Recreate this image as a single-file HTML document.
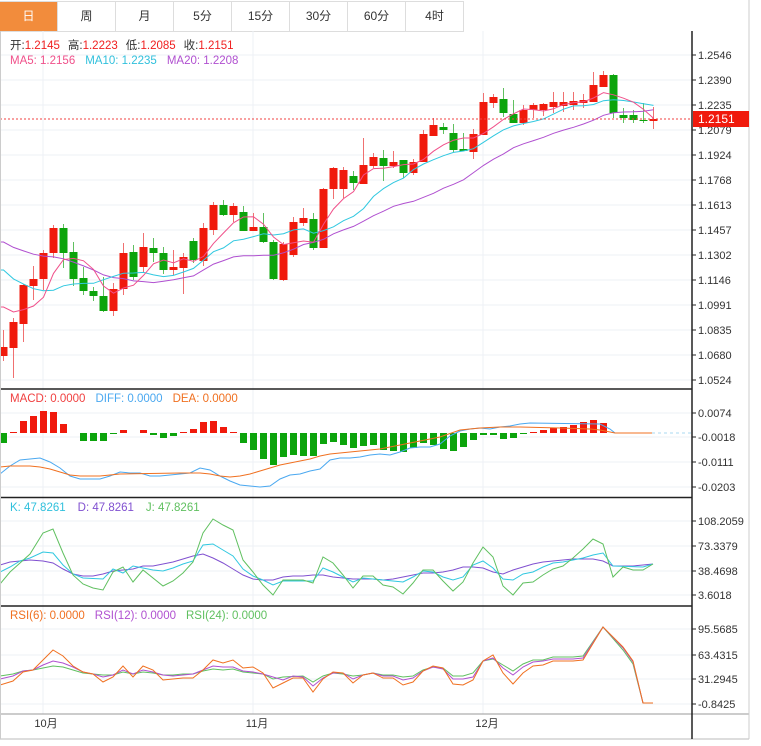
<!DOCTYPE html>
<html><head><meta charset="utf-8">
<style>
html,body{margin:0;padding:0;background:#fff;width:761px;height:746px;overflow:hidden;font-family:"Liberation Sans","Noto Sans CJK SC",sans-serif;}
.tabs{position:absolute;left:0;top:1px;height:29px;display:flex;border-bottom:1px solid #ddd;border-top:1px solid #ddd}
.tab{width:57px;border-right:1px solid #ddd;text-align:center;line-height:29px;font-size:12px;color:#333}
.tab.on{background:#f28c3c;color:#fff}
svg{position:absolute;left:0;top:0}
</style></head><body>
<div class="tabs"><div class="tab on">日</div><div class="tab">周</div><div class="tab">月</div><div class="tab">5分</div><div class="tab">15分</div><div class="tab">30分</div><div class="tab">60分</div><div class="tab">4时</div></div>
<svg id="s" width="761" height="746" xmlns="http://www.w3.org/2000/svg" font-family="Liberation Sans, Noto Sans CJK SC, sans-serif"></svg>
<script>
var S=document.getElementById('s'),h='';
function ln(x1,y1,x2,y2,c,w,d){h+='<line x1="'+x1+'" y1="'+y1+'" x2="'+x2+'" y2="'+y2+'" stroke="'+c+'" stroke-width="'+(w||1)+'"'+(d?' stroke-dasharray="'+d+'"':'')+'/>';}
function pl(p,c){h+='<polyline fill="none" stroke="'+c+'" stroke-width="1" points="'+p.map(function(a){return a.join(',')}).join(' ')+'"/>';}
function tx(x,y,t,c,s,a){h+='<text x="'+x+'" y="'+y+'" fill="'+c+'" font-size="'+(s||11)+'"'+(a?' text-anchor="'+a+'"':'')+'>'+t+'</text>';}
var G='#edf1f5';
[55,80,105,130,155,180,205,230,255,280,305,330,355,380].forEach(function(y){ln(0,y,692,y,G)});
[413,437,462,487].forEach(function(y){ln(0,y,692,y,G)});
[521,546,571,595].forEach(function(y){ln(0,y,692,y,G)});
[629,655,679,704].forEach(function(y){ln(0,y,692,y,G)});
[43,253,483].forEach(function(x){ln(x,31,x,714,G)});
var C=[[347,356,330,361,1],[322,348,318,378,1],[285,324,284,342,1],[279,286,266,300,1],[253,279,250,290,1],[228,253,225,258,1],[228,253,224,268,0],[252,279,242,286,0],[278,291,267,295,0],[291,296,287,301,0],[296,311,277,312,0],[289,311,283,316,1],[253,289,243,295,1],[252,277,245,280,0],[247,267,233,272,1],[248,253,238,262,0],[253,270,247,274,0],[267,270,250,275,1],[257,268,253,294,1],[241,260,238,263,0],[228,261,223,266,1],[205,230,202,235,1],[205,215,200,216,0],[206,215,203,222,1],[212,231,206,231,0],[227,231,213,231,1],[227,242,213,243,0],[242,279,240,280,0],[244,280,242,281,1],[222,255,217,257,1],[218,223,208,226,1],[219,248,213,250,0],[189,248,188,248,1],[168,189,167,199,1],[170,189,167,198,1],[176,183,171,190,0],[165,184,138,184,1],[157,166,153,168,1],[158,166,150,181,0],[162,166,151,168,1],[160,173,160,178,0],[162,173,159,175,1],[134,162,130,162,1],[125,136,118,136,1],[127,130,123,134,0],[133,150,124,152,0],[149,151,133,151,0],[134,152,129,159,1],[102,135,93,135,1],[97,103,94,108,1],[99,113,88,117,0],[114,123,100,123,0],[110,123,105,125,1],[105,110,103,118,1],[104,110,103,116,1],[102,107,92,113,1],[102,106,92,112,1],[101,105,92,110,1],[100,103,94,108,1],[85,102,72,102,1],[75,87,71,87,1],[75,113,74,118,0],[115,118,108,123,0],[115,120,110,123,0],[120,121,103,123,0],[119,121,107,129,1]];
var R='#f01a0c',GR='#0ca40c';
var closes=[];for(var k=0;k<10;k++)closes.push(214);for(k=0;k<5;k++)closes.push(233);for(k=0;k<4;k++)closes.push(297);
C.forEach(function(c,i){var x=3.5+10*i,col=c[4]?R:GR;
 ln(x,c[2],x,c[3],c[4]?'#f07070':'#60c060');
 h+='<rect x="'+(x-4)+'" y="'+c[0]+'" width="8" height="'+Math.max(1,c[1]-c[0])+'" fill="'+col+'"/>';
 closes.push(c[4]?c[0]:c[1]);});
function ma(n,col){var p=[];for(var i=0;i<C.length;i++){var j=i+19,s=0;for(var q=0;q<n;q++)s+=closes[j-q];p.push([3.5+10*i,(s/n).toFixed(1)]);}p.unshift([0,p[0][1]]);pl(p,col);}
ma(20,'#b050d0');ma(10,'#30c8e0');ma(5,'#f0508a');
ln(0,119,692,119,'#f04040',1,'2,2');
var M=[-10,1,12,17,22,21,9,0,-8,-8,-8,-1,3,0,3,-2,-5,-3,1,4,11,12,6,1,-10,-17,-26,-32,-24,-22,-23,-23,-11,-9,-12,-15,-13,-12,-17,-18,-19,-15,-10,-12,-16,-18,-14,-7,-2,-2,-6,-5,-1,1,3,5,6,8,11,13,10,0,0,0,0,0];
M.forEach(function(v,i){if(!v)return;var x=3.5+10*i;h+='<rect x="'+(x-3.5)+'" y="'+(v>0?433-v:433)+'" width="7" height="'+Math.abs(v)+'" fill="'+(v>0?R:GR)+'"/>';});
ln(652,433,692,433,'#a8d8f0',1,'3,3');
pl([[0,474],[10,466],[20,460],[30,459],[40,458],[50,462],[60,468],[70,476],[80,479],[100,479],[110,476],[120,472],[130,473],[140,473],[150,476],[160,476],[170,475],[180,474],[190,473],[200,468],[210,470],[220,476],[230,481],[240,485],[250,486],[260,487],[270,486],[280,479],[290,475],[300,474],[310,471],[320,469],[330,460],[340,458],[350,458],[360,457],[370,455],[380,454],[390,455],[400,452],[410,448],[420,447],[430,447],[440,444],[450,436],[460,431],[470,429],[480,428],[490,429],[500,427],[510,426],[520,424],[530,423],[600,424],[610,429],[615,433],[652,433]],'#4aa8f0');
pl([[0,467],[10,466],[30,466],[40,467],[50,469],[60,472],[70,475],[80,476],[100,476],[110,475],[120,474],[180,473],[200,473],[210,474],[220,476],[230,477],[240,476],[250,474],[260,471],[270,468],[280,465],[290,463],[300,461],[310,459],[320,456],[330,454],[340,453],[350,452],[360,451],[370,450],[380,449],[390,447],[400,445],[410,443],[420,441],[440,437],[460,430],[480,428],[500,427],[520,427],[560,428],[590,429],[600,430],[615,433],[652,433]],'#f07020');
pl([[0,565],[10,562],[20,561],[30,560],[43,561],[53,563],[63,569],[73,574],[83,576],[93,576],[103,574],[113,571],[123,570],[133,569],[143,566],[153,566],[163,564],[173,562],[183,559],[193,556],[203,554],[213,558],[223,563],[233,569],[243,575],[253,579],[263,580],[273,580],[283,577],[293,576],[303,576],[313,575],[323,575],[333,577],[343,578],[353,579],[373,579],[383,580],[393,579],[403,577],[413,575],[423,573],[433,573],[443,572],[453,570],[463,567],[473,567],[483,568],[493,572],[503,574],[513,570],[523,567],[533,564],[543,562],[553,561],[563,560],[573,559],[593,559],[603,561],[613,566],[633,566],[643,565],[653,564]],'#8050d0');
pl([[0,572],[10,567],[20,561],[30,558],[43,552],[53,553],[63,565],[73,574],[83,578],[103,579],[113,569],[123,573],[133,566],[143,568],[153,570],[163,571],[173,568],[183,564],[193,561],[203,545],[213,544],[223,550],[233,556],[243,569],[253,576],[263,580],[273,585],[283,581],[313,581],[323,568],[333,572],[343,577],[353,582],[363,578],[373,579],[383,580],[393,581],[403,582],[413,577],[423,571],[433,572],[443,577],[453,580],[463,577],[473,565],[483,561],[493,568],[503,579],[513,580],[523,574],[533,572],[543,567],[553,563],[563,562],[573,560],[583,558],[593,555],[603,553],[613,566],[643,567],[653,564]],'#30c8e0');
pl([[0,584],[10,572],[20,563],[30,554],[43,533],[53,529],[63,553],[73,575],[83,584],[93,588],[103,590],[113,572],[123,567],[133,582],[143,570],[163,586],[173,581],[183,573],[193,562],[203,533],[213,519],[223,525],[233,530],[243,560],[253,572],[263,585],[273,595],[283,580],[303,580],[313,583],[323,557],[333,563],[343,575],[353,588],[363,576],[373,576],[383,585],[393,587],[403,594],[413,583],[423,570],[433,570],[443,581],[453,591],[463,582],[473,563],[483,547],[493,557],[503,586],[513,595],[523,583],[533,582],[543,575],[553,569],[563,566],[573,558],[583,549],[593,539],[603,544],[613,577],[623,567],[633,570],[643,570],[653,564]],'#60c060');
pl([[0,676],[13,674],[23,671],[33,670],[43,668],[53,666],[63,667],[73,670],[83,673],[93,674],[103,675],[113,675],[123,672],[133,674],[143,672],[153,673],[163,675],[173,675],[183,674],[193,674],[203,671],[213,669],[223,670],[233,669],[243,672],[253,673],[263,674],[273,679],[283,677],[303,676],[313,682],[323,676],[333,673],[343,674],[353,676],[363,675],[373,673],[383,675],[393,675],[403,677],[413,676],[423,670],[433,667],[443,668],[453,676],[463,676],[473,673],[483,661],[493,659],[503,665],[513,671],[523,664],[533,660],[543,660],[553,657],[573,657],[583,656],[603,627],[623,650],[633,664],[643,703],[653,703]],'#60c060');
pl([[0,679],[13,676],[23,671],[33,670],[43,665],[53,661],[63,663],[73,667],[83,672],[93,674],[103,677],[113,675],[123,670],[133,674],[143,670],[153,672],[163,675],[173,676],[183,675],[193,674],[203,670],[213,666],[223,667],[233,667],[243,671],[253,672],[263,674],[283,680],[293,676],[303,677],[313,686],[323,678],[333,673],[343,673],[353,679],[363,675],[373,673],[383,676],[393,676],[403,680],[413,678],[423,671],[433,667],[443,669],[453,679],[463,679],[473,677],[483,661],[493,658],[503,668],[513,675],[523,667],[533,662],[543,661],[553,659],[573,659],[583,658],[603,627],[623,648],[633,662],[643,703],[653,703]],'#b050d0');
pl([[0,685],[13,681],[23,672],[33,670],[43,660],[53,650],[63,656],[73,666],[83,672],[93,674],[103,682],[113,677],[123,666],[133,677],[143,666],[153,670],[163,680],[183,678],[193,678],[203,670],[213,660],[223,663],[233,660],[243,668],[253,667],[263,673],[273,688],[283,683],[293,678],[303,678],[313,692],[323,679],[333,672],[343,673],[353,683],[363,675],[373,673],[383,678],[393,678],[403,685],[413,682],[423,671],[433,666],[443,668],[453,684],[463,685],[473,680],[483,661],[493,655],[503,673],[513,684],[523,673],[533,666],[543,665],[553,661],[573,661],[583,660],[603,627],[623,647],[633,661],[643,703],[653,703]],'#f07020');
ln(0,389,692,389,'#222',1.5);ln(0,497.5,692,497.5,'#222',1.5);ln(0,606,692,606,'#222',1.5);
ln(0,714,749,714,'#999',1);ln(0,739,749,739,'#ddd',2);
ln(692,31,692,739,'#222',1.5);ln(749,0,749,739,'#ccc',1);ln(0.5,31,0.5,739,'#ccc',1);
function ax(arr){arr.forEach(function(a){ln(692,a[0],696,a[0],'#222');tx(698,a[0]+4,a[1],'#333',11);});}
ax([[55,'1.2546'],[80,'1.2390'],[105,'1.2235'],[130,'1.2079'],[155,'1.1924'],[180,'1.1768'],[205,'1.1613'],[230,'1.1457'],[255,'1.1302'],[280,'1.1146'],[305,'1.0991'],[330,'1.0835'],[355,'1.0680'],[380,'1.0524']]);
ax([[413,'0.0074'],[437,'-0.0018'],[462,'-0.0111'],[487,'-0.0203']]);
ax([[521,'108.2059'],[546,'73.3379'],[571,'38.4698'],[595,'3.6018']]);
ax([[629,'95.5685'],[655,'63.4315'],[679,'31.2945'],[704,'-0.8425']]);
h+='<rect x="693" y="111" width="56" height="16" fill="#f01a0c"/>';tx(698,123,'1.2151','#fff',12);
tx(46,727,'10月','#333',11,'middle');tx(257,727,'11月','#333',11,'middle');tx(487,727,'12月','#333',11,'middle');
h+='<text x="10" y="49" font-size="11.5"><tspan fill="#333">开:</tspan><tspan fill="#f02020">1.2145</tspan><tspan fill="#333" dx="8">高:</tspan><tspan fill="#f02020">1.2223</tspan><tspan fill="#333" dx="8">低:</tspan><tspan fill="#f02020">1.2085</tspan><tspan fill="#333" dx="8">收:</tspan><tspan fill="#f02020">1.2151</tspan></text>';
h+='<text x="10" y="64" font-size="11.5"><tspan fill="#f0508a">MA5: 1.2156</tspan><tspan fill="#30c0dc" dx="10">MA10: 1.2235</tspan><tspan fill="#b050d0" dx="10">MA20: 1.2208</tspan></text>';
h+='<text x="10" y="402" font-size="11.5"><tspan fill="#f04040">MACD: 0.0000</tspan><tspan fill="#4aa8f0" dx="10">DIFF: 0.0000</tspan><tspan fill="#f07020" dx="10">DEA: 0.0000</tspan></text>';
h+='<text x="10" y="511" font-size="11.5"><tspan fill="#30c0dc">K: 47.8261</tspan><tspan fill="#8050d0" dx="12">D: 47.8261</tspan><tspan fill="#60c060" dx="12">J: 47.8261</tspan></text>';
h+='<text x="10" y="619" font-size="11.5"><tspan fill="#f07020">RSI(6): 0.0000</tspan><tspan fill="#b050d0" dx="10">RSI(12): 0.0000</tspan><tspan fill="#60c060" dx="10">RSI(24): 0.0000</tspan></text>';
S.innerHTML=h;
</script>
</body></html>
